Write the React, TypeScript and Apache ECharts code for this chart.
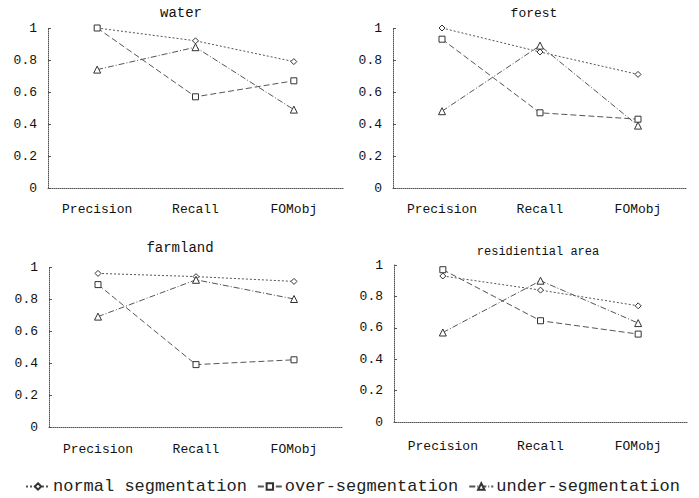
import React, { useEffect, useRef } from "react";
import * as echarts from "echarts";

const categories = ["Precision", "Recall", "FOMobj"];
const seriesNames = ["normal segmentation", "over-segmentation", "under-segmentation"];
const panelTitles = ["water", "forest", "farmland", "residiential area"];

const waterNormal = [1.0, 0.92, 0.79];
const waterOver = [1.0, 0.57, 0.67];
const waterUnder = [0.74, 0.88, 0.49];

const forestNormal = [1.0, 0.85, 0.71];
const forestOver = [0.93, 0.47, 0.43];
const forestUnder = [0.48, 0.89, 0.39];

const farmNormal = [0.96, 0.94, 0.91];
const farmOver = [0.89, 0.39, 0.42];
const farmUnder = [0.69, 0.92, 0.8];

const resNormal = [0.93, 0.84, 0.74];
const resOver = [0.97, 0.645, 0.56];
const resUnder = [0.57, 0.9, 0.63];

const panelData = [
  [waterNormal, waterOver, waterUnder],
  [forestNormal, forestOver, forestUnder],
  [farmNormal, farmOver, farmUnder],
  [resNormal, resOver, resUnder],
];

const FONT = "Liberation Mono";

export default function App() {
  const ref = useRef<HTMLDivElement>(null);
  useEffect(() => {
    if (!ref.current) return;
    const chart = echarts.init(ref.current, undefined, { renderer: "svg" });
    const grids = [
      { left: 48, right: 356, top: 28, bottom: 310 },
      { left: 393, right: 12, top: 28, bottom: 310 },
      { left: 49, right: 356, top: 267, bottom: 71 },
      { left: 394, right: 12, top: 265, bottom: 76 },
    ];
    const labelMargins = [15, 15, 16, 18];
    const titlePos = [
      { x: 181, y: 13, size: 14 },
      { x: 534, y: 13, size: 13 },
      { x: 180, y: 248, size: 14 },
      { x: 538, y: 252, size: 12 },
    ];
    const symbols = ["diamond", "rect", "triangle"];
    const symbolSizes = [6, 6, 7];
    const dashes: any[] = [[2, 2], [6, 3], [6, 2, 1, 2]];
    const axisLine = { lineStyle: { color: "#555", type: "dotted", width: 1 } };
    const xAxis = grids.map((_, i) => ({
      type: "category",
      gridIndex: i,
      data: categories,
      boundaryGap: true,
      axisLine,
      axisTick: { inside: true, length: 3, lineStyle: { color: "#555" } },
      axisLabel: { color: "#111", fontFamily: FONT, fontSize: 13, margin: labelMargins[i] },
      splitLine: { show: false },
    }));
    const yAxis = grids.map((_, i) => ({
      type: "value",
      gridIndex: i,
      min: 0,
      max: 1,
      interval: 0.2,
      axisLine: { show: true, ...axisLine },
      axisTick: { show: true, inside: true, length: 3, lineStyle: { color: "#555" } },
      axisLabel: { color: "#111", fontFamily: FONT, fontSize: 13, margin: 11 },
      splitLine: { show: false },
    }));
    const series: any[] = [];
    panelData.forEach((arrs, p) => {
      arrs.forEach((vals, s) => {
        series.push({
          type: "line",
          name: seriesNames[s],
          xAxisIndex: p,
          yAxisIndex: p,
          data: vals,
          symbol: symbols[s],
          symbolSize: symbolSizes[s],
          lineStyle: { color: "#555", width: 1, type: dashes[s] },
          itemStyle: { color: "#fff", borderColor: "#333", borderWidth: 1 },
        });
      });
    });
    chart.setOption({
      animation: false,
      backgroundColor: "#fff",
      grid: grids,
      xAxis,
      yAxis,
      series,
      legend: {
        data: seriesNames,
        left: 20,
        top: 473,
        itemWidth: 24,
        itemHeight: 8,
        itemGap: 10,
        textStyle: { fontFamily: FONT, fontSize: 17, color: "#222", padding: [0, 0, 0, -2] },
      },
      graphic: titlePos.map((t, i) => ({
        type: "text",
        x: t.x,
        y: t.y,
        style: {
          text: panelTitles[i],
          fontFamily: FONT,
          fontSize: t.size,
          fontWeight: "normal",
          fill: "#111",
          textAlign: "center",
          textVerticalAlign: "middle",
        },
      })),
    });
    return () => chart.dispose();
  }, []);
  return (
    <div
      ref={ref}
      style={{ position: "fixed", left: 0, top: 0, width: 699, height: 498, background: "#fff" }}
    />
  );
}
